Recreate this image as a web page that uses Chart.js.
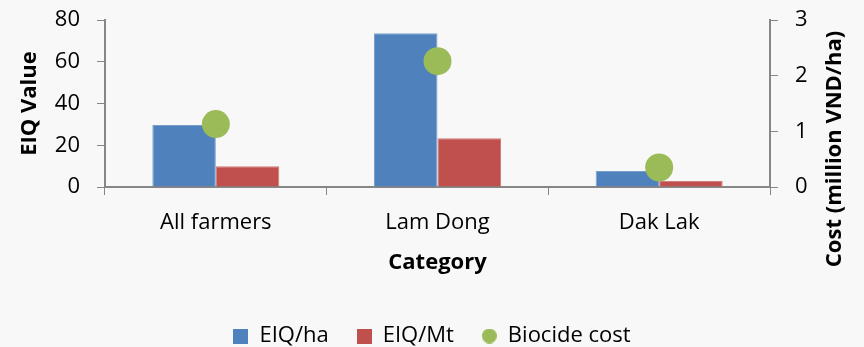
<!DOCTYPE html>
<html>
<head>
<meta charset="utf-8">
<script src="https://cdn.jsdelivr.net/npm/chart.js@4/dist/chart.umd.min.js"></script>
<style>
  html, body { margin: 0; padding: 0; background: #f8f8f8; }
  #wrap { width: 864px; height: 347px; position: relative; }
</style>
</head>
<body>
<div id="wrap"><canvas id="c" width="864" height="347"></canvas></div>
<script>
const categories = ["All farmers", "Lam Dong", "Dak Lak"];
const eiqPerHa = [29.7, 73.6, 7.7];
const eiqPerMt = [10.0, 23.3, 2.9];
const biocideCost = [1.13, 2.26, 0.35];
const leftTicks = [0, 20, 40, 60, 80];
const rightTicks = [0, 1, 2, 3];

const FONT = "'Open Sans', Lato, sans-serif";
const FS = 22;
const AXIS = "#868686";

function markCanvas(color, circle) {
  const c = document.createElement('canvas');
  c.width = 15; c.height = 15;
  const g = c.getContext('2d');
  g.fillStyle = color;
  if (circle) { g.beginPath(); g.arc(7.5, 7.5, 7.5, 0, Math.PI * 2); g.fill(); }
  else g.fillRect(0, 0, 15, 15);
  return c;
}

const rightTitle = {
  id: 'rightTitle',
  afterDraw(chart) {
    const ctx = chart.ctx;
    ctx.save();
    ctx.translate(835, 149);
    ctx.rotate(-Math.PI / 2);
    ctx.font = "bold " + FS + "px " + FONT;
    ctx.fillStyle = "#000";
    ctx.textAlign = "center";
    ctx.textBaseline = "middle";
    ctx.fillText("Cost (million VND/ha)", 0, 0);
    ctx.restore();
  }
};

new Chart(document.getElementById('c'), {
  type: 'bar',
  data: {
    labels: categories,
    datasets: [
      { type: 'line', label: 'Biocide cost', data: biocideCost, yAxisID: 'y1',
        showLine: false, pointRadius: 14, pointHoverRadius: 14,
        backgroundColor: '#9bbb59', borderColor: '#9bbb59', borderWidth: 0,
        pointStyle: 'circle', order: 0 },
      { label: 'EIQ/ha', data: eiqPerHa, yAxisID: 'y', backgroundColor: '#4f81bd',
        borderColor: '#7b9fcc', borderWidth: {top:1,left:1,right:1,bottom:0}, order: 1 },
      { label: 'EIQ/Mt', data: eiqPerMt, yAxisID: 'y', backgroundColor: '#c0504d',
        borderColor: '#cf7c7a', borderWidth: {top:1,left:1,right:1,bottom:0}, order: 1 }
    ]
  },
  options: {
    responsive: false,
    animation: false,
    events: [],
    layout: { padding: { top: 20, left: 0, right: 0, bottom: -10 } },
    datasets: { bar: { categoryPercentage: 0.573, barPercentage: 1.0 } },
    plugins: {
      tooltip: { enabled: false },
      legend: {
        position: 'bottom',
        labels: {
          usePointStyle: true, boxWidth: 15, boxHeight: 15, padding: 28,
          color: '#000', font: { family: FONT, size: FS },
          generateLabels(chart) {
            const items = Chart.defaults.plugins.legend.labels.generateLabels(chart);
            items.forEach(it => {
              const ds = chart.data.datasets[it.datasetIndex];
              it.pointStyle = markCanvas(ds.backgroundColor, ds.type === 'line');
            });
            return items.sort((a, b) => {
              const k = i => i.datasetIndex === 0 ? 9 : i.datasetIndex;
              return k(a) - k(b);
            });
          }
        }
      }
    },
    scales: {
      x: {
        grid: { display: true, drawOnChartArea: false, drawTicks: true, tickLength: 8, color: AXIS, offset: true },
        border: { display: true, color: AXIS, width: 2 },
        ticks: { color: '#000', font: { family: FONT, size: FS }, padding: 15 },
        title: { display: true, text: 'Category', color: '#000', font: { family: FONT, size: FS, weight: 'bold' }, padding: { top: 4, bottom: 21 } },
        afterFit(s) { s.height = 110; }
      },
      y: {
        position: 'left', min: 0, max: 80,
        afterBuildTicks(s) { s.ticks = leftTicks.map(v => ({ value: v })); },
        grid: { display: true, drawOnChartArea: false, drawTicks: true, tickLength: 8, color: AXIS },
        border: { display: true, color: AXIS, width: 2 },
        ticks: { color: '#000', font: { family: FONT, size: FS }, padding: 17 },
        title: { display: true, text: 'EIQ Value', color: '#000', font: { family: FONT, size: FS, weight: 'bold' }, padding: { top: 17 } },
        afterFit(s) { s.width = 105; s.paddingTop = 0; s.paddingBottom = 0; }
      },
      y1: {
        position: 'right', min: 0, max: 3,
        afterBuildTicks(s) { s.ticks = rightTicks.map(v => ({ value: v })); },
        grid: { display: true, drawOnChartArea: false, drawTicks: true, tickLength: 8, color: AXIS },
        border: { display: true, color: AXIS, width: 2 },
        ticks: { color: '#000', font: { family: FONT, size: FS }, padding: 17 },
        afterFit(s) { s.width = 94; s.paddingTop = 0; s.paddingBottom = 0; }
      }
    }
  },
  plugins: [rightTitle]
});
</script>
</body>
</html>
